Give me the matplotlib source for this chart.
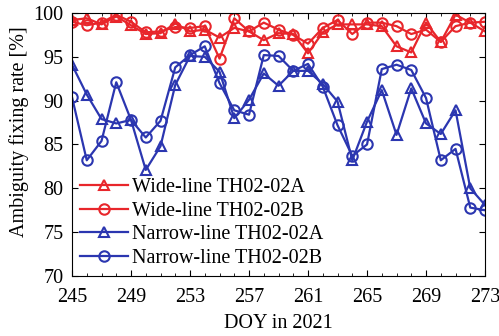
import numpy as np
import matplotlib.pyplot as plt

# DOY axis
doy = np.arange(245, 274)

# ambiguity fixing rate [%]
wide_a = [99.2, 99.4, 98.7, 99.6, 98.6, 97.6, 97.7, 98.8, 97.9, 98.1,
          97.2, 98.3, 97.9, 96.9, 97.7, 97.6, 95.4, 97.8, 98.7, 98.7,
          98.7, 98.5, 96.2, 95.5, 98.9, 96.7, 99.8, 98.9, 97.9]
wide_b = [99.0, 98.6, 98.9, 99.8, 99.0, 97.8, 97.9, 98.4, 98.3, 98.5,
          94.8, 99.4, 97.9, 98.9, 98.1, 97.5, 96.5, 98.3, 99.2, 97.6,
          98.9, 98.9, 98.5, 97.6, 98.1, 96.7, 98.5, 98.9, 99.0]
narrow_a = [94.1, 90.7, 87.9, 87.4, 87.8, 82.1, 84.8, 91.8, 95.1, 95.0,
            93.3, 88.0, 90.1, 93.1, 91.7, 93.4, 93.4, 91.9, 89.9, 83.2,
            87.6, 91.2, 86.1, 91.4, 87.4, 86.2, 88.9, 80.0, 78.1]
narrow_b = [90.4, 83.2, 85.4, 92.1, 87.8, 85.8, 87.7, 93.8, 95.2, 96.2,
            92.0, 88.9, 88.4, 95.2, 95.1, 93.4, 94.2, 91.6, 87.2, 83.7,
            85.0, 93.6, 94.1, 93.5, 90.3, 83.2, 84.5, 77.8, 77.5]

labels = ['Wide-line TH02-02A', 'Wide-line TH02-02B',
          'Narrow-line TH02-02A', 'Narrow-line TH02-02B']

RED = '#e8262b'
BLUE = '#2b36b0'

plt.rcParams['font.family'] = ['Liberation Serif', 'DejaVu Serif']
plt.rcParams['font.size'] = 14.5

fig = plt.figure(figsize=(4.99, 3.36), dpi=100)
ax = fig.add_axes([0.1443, 0.1786, 0.8277, 0.7827])

style = dict(lw=1.6, ms=7.5, mfc='none', mew=1.5)
ax.plot(doy, wide_a, '-^', color=RED, label=labels[0], **style)
ax.plot(doy, wide_b, '-o', color=RED, label=labels[1], **style)
ax.plot(doy, narrow_a, '-^', color=BLUE, label=labels[2], **style)
ax.plot(doy, narrow_b, '-o', color=BLUE, label=labels[3], **style)

ax.set_xlim(245, 273)
ax.set_ylim(70, 100)
ax.set_xticks(np.arange(245, 274, 4))
ax.set_xticks(doy, minor=True)
ax.set_yticks(np.arange(70, 101, 5))
ax.tick_params(direction='in', which='both', top=True, right=True)
ax.tick_params(which='major', length=4)
ax.tick_params(which='minor', length=2.5)
ax.tick_params(axis='x', which='major', pad=9)
ax.tick_params(axis='y', which='major', pad=6)
for s in ax.spines.values():
    s.set_linewidth(0.8)

ax.set_xlabel('DOY in 2021', labelpad=5)
ax.set_ylabel('Ambiguity fixing rate [%]', labelpad=2)
ax.yaxis.set_label_coords(-0.105, 0.55)

ax.legend(loc='lower left', frameon=False, handlelength=2.4,
          labelspacing=0.22, borderaxespad=0.2, handletextpad=0.2,
          borderpad=0.2)

fig.savefig('out.png', dpi=100)
